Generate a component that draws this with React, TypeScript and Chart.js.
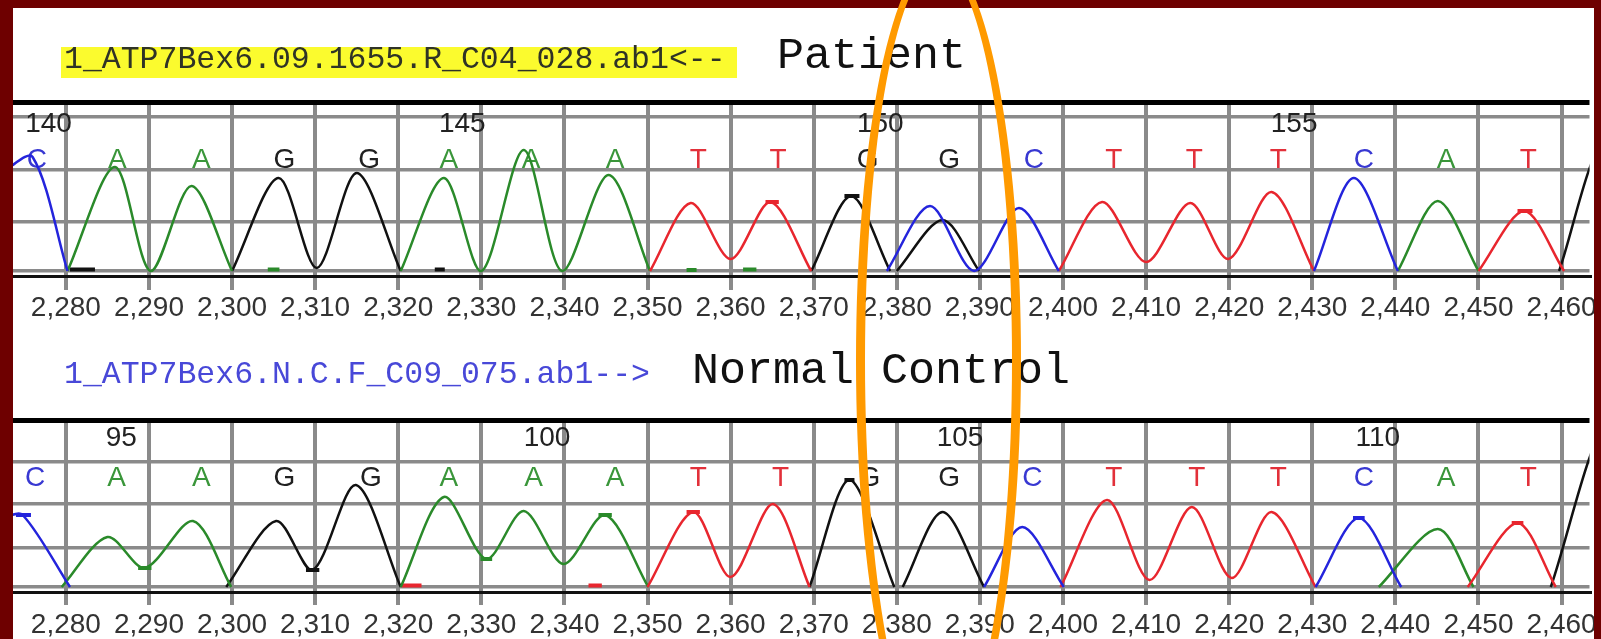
import React, { useEffect, useRef } from 'react';
import { Chart, registerables } from 'chart.js';

Chart.register(...registerables);

// ---------------- data ----------------
const X_MIN = 2273.64;
const X_MAX = 2463.36;
const X_TICKS = [2280, 2290, 2300, 2310, 2320, 2330, 2340, 2350, 2360, 2370, 2380, 2390, 2400, 2410, 2420, 2430, 2440, 2450, 2460];

const BASES = ['C', 'A', 'A', 'G', 'G', 'A', 'A', 'A', 'T', 'T', 'G', 'G', 'C', 'T', 'T', 'T', 'C', 'A', 'T'];
const P1_BASE_POS = [2276.5, 2286.2, 2296.3, 2306.3, 2316.5, 2326.1, 2336, 2346.1, 2356.1, 2365.7, 2376.5, 2386.3, 2396.5, 2406.1, 2415.8, 2425.9, 2436.2, 2446.1, 2456];
const P2_BASE_POS = [2276.3, 2286.1, 2296.3, 2306.3, 2316.7, 2326.1, 2336.3, 2346.1, 2356.1, 2366, 2376.7, 2386.3, 2396.3, 2406.1, 2416.1, 2425.9, 2436.2, 2446.1, 2456];

const P1_NUMS = [140, 145, 150, 155];
const P1_NUM_POS = [2275.1, 2324.9, 2375.2, 2425.0];
const P2_NUMS = [95, 100, 105, 110];
const P2_NUM_POS = [2284.8, 2335.1, 2384.8, 2435.2];

const P1_Y_GRID = [0, 49, 101, 154, 169];
const P2_Y_GRID = [0, 39, 83, 125, 167];

type Pt = [number, number | null];

// Patient trace (signal height per channel)
const P1_A: Pt[] = [
  [2280.2, 0], [2285.9, 104], [2290.2, 0], [2295.1, 85], [2300, 0],
  [2310, null],
  [2320.3, 0], [2325.5, 93], [2330, 0], [2335.1, 121], [2339.7, 0], [2345.3, 96], [2350.3, 0],
  [2400, null],
  [2440.3, 0], [2445.1, 70], [2450, 0],
];
const P1_C: Pt[] = [
  [2272.5, 100], [2276, 114], [2280.2, 0],
  [2330, null],
  [2378.8, 0], [2384, 65], [2389.3, 0], [2394.7, 63], [2399.5, 0],
  [2415, null],
  [2430.2, 0], [2435, 93], [2440.3, 0],
];
const P1_G: Pt[] = [
  [2300, 0], [2305.6, 93], [2310.2, 3], [2315, 98], [2320.3, 0],
  [2345, null],
  [2369.7, 0], [2374.5, 75], [2379.2, 0],
  [2379.6, null],
  [2380, 0], [2385.5, 51], [2389.9, 0],
  [2420, null],
  [2459.7, 0], [2465, 125], [2470, 0],
];
const P1_T: Pt[] = [
  [2350.3, 0], [2355.2, 68], [2360, 12], [2364.8, 69], [2369.7, 0],
  [2385, null],
  [2399.5, 0], [2404.7, 69], [2410, 9], [2415.3, 68], [2419.9, 12], [2425.1, 79], [2430.2, 0],
  [2440, null],
  [2450, 0], [2455.5, 60], [2460.3, 0],
];

// Normal control trace
const P2_A: Pt[] = [
  [2279.5, 0], [2285, 50], [2289.5, 19], [2295.3, 66], [2299.9, 0],
  [2310, null],
  [2320.3, 0], [2325.5, 90], [2330.6, 28], [2335.1, 76], [2339.9, 23], [2344.9, 72], [2350.1, 0],
  [2400, null],
  [2438, 0], [2445.1, 58], [2449.4, 0],
];
const P2_C: Pt[] = [
  [2272.5, 70], [2274.8, 72], [2280.5, 0],
  [2330, null],
  [2390.5, 0], [2395.1, 60], [2400.1, 0],
  [2415, null],
  [2430.4, 0], [2435.6, 69], [2440.7, 0],
];
const P2_G: Pt[] = [
  [2299.3, 0], [2305.3, 66], [2309.7, 17], [2314.9, 102], [2320.3, 0],
  [2345, null],
  [2369.5, 0], [2374.3, 107], [2379.7, 0],
  [2380.2, null],
  [2380.7, 0], [2385.5, 75], [2390.5, 0],
  [2420, null],
  [2458.7, 0], [2465.5, 160], [2471, 0],
];
const P2_T: Pt[] = [
  [2350, 0], [2355.5, 75], [2360, 10], [2365.1, 83], [2369.5, 0],
  [2385, null],
  [2399.7, 0], [2405.3, 87], [2410.4, 7], [2415.5, 80], [2420.3, 9], [2425.1, 75], [2430.4, 0],
  [2440, null],
  [2448.7, 0], [2454.7, 64], [2459.3, 0],
];

// short thick marks on the traces: [base, x, height, half-width in scans]
type Mark = [string, number, number, number];
const P1_MARKS: Mark[] = [
  ['G', 2374.6, 75, 0.9],
  ['T', 2365.0, 69, 0.8],
  ['T', 2455.6, 60, 0.9],
  ['G', 2282.0, 1.5, 1.5],
  ['A', 2305.0, 1.5, 0.7],
  ['G', 2325.0, 1.5, 0.6],
  ['A', 2355.3, 1, 0.6],
  ['A', 2362.3, 1.5, 0.8],
];
const P2_MARKS: Mark[] = [
  ['C', 2274.9, 72, 0.9],
  ['A', 2289.5, 19, 0.8],
  ['G', 2309.7, 17, 0.8],
  ['A', 2330.6, 28, 0.7],
  ['A', 2344.9, 72, 0.8],
  ['T', 2355.5, 75, 0.8],
  ['G', 2374.3, 107, 0.6],
  ['C', 2435.6, 69, 0.7],
  ['T', 2454.7, 64, 0.7],
  ['T', 2321.6, 1.5, 1.2],
  ['T', 2343.7, 1.5, 0.8],
];

// ---------------- styles ----------------
const FONT_SANS = "'Liberation Sans', Arial, sans-serif";
const FONT_MONO = "'Liberation Mono', 'Courier New', monospace";
const TRACE_COLORS: Record<string, string> = { A: '#2a8a2a', C: '#2424dc', G: '#111111', T: '#e8262e' };
const LETTER_COLORS: Record<string, string> = { A: '#3a963a', C: '#3838d2', G: '#202020', T: '#e2303a' };
const GRID_GRAY = '#8a8a8a';
const PX_PER_UNIT = (1594 - 13) / (X_MAX - X_MIN);

interface PanelCfg {
  traces: { base: string; data: Pt[] }[];
  marks: Mark[];
  basePos: number[];
  nums: number[];
  numPos: number[];
  yGrid: number[];
  yMin: number;
  yMax: number;
  baseY: number;
  numY: number;
  canvasTop: number;
  canvasHeight: number;
  padTop: number;
  xAxisH: number;
  tickLen: number;
  tickPad: number;
}

const PANEL1: PanelCfg = {
  traces: [
    { base: 'C', data: P1_C },
    { base: 'T', data: P1_T },
    { base: 'A', data: P1_A },
    { base: 'G', data: P1_G },
  ],
  marks: P1_MARKS,
  basePos: P1_BASE_POS,
  nums: P1_NUMS,
  numPos: P1_NUM_POS,
  yGrid: P1_Y_GRID,
  yMin: -5,
  yMax: 169,
  baseY: 111,
  numY: 147,
  canvasTop: 0,
  canvasHeight: 330,
  padTop: 102,
  xAxisH: 54,
  tickLen: 14,
  tickPad: 1,
};

const PANEL2: PanelCfg = {
  traces: [
    { base: 'C', data: P2_C },
    { base: 'T', data: P2_T },
    { base: 'A', data: P2_A },
    { base: 'G', data: P2_G },
  ],
  marks: P2_MARKS,
  basePos: P2_BASE_POS,
  nums: P2_NUMS,
  numPos: P2_NUM_POS,
  yGrid: P2_Y_GRID,
  yMin: -5,
  yMax: 167,
  baseY: 109,
  numY: 149,
  canvasTop: 330,
  canvasHeight: 309,
  padTop: 90,
  xAxisH: 47,
  tickLen: 13,
  tickPad: 3,
};

function makeLabelPlugin(cfg: PanelCfg) {
  return {
    id: 'seqLabels',
    beforeDatasetsDraw(chart: any) {
      const { ctx } = chart;
      const xs = chart.scales.x;
      const ys = chart.scales.y;
      ctx.save();
      ctx.font = `28px ${FONT_SANS}`;
      ctx.textBaseline = 'middle';
      ctx.textAlign = 'center';
      BASES.forEach((b, i) => {
        ctx.fillStyle = LETTER_COLORS[b];
        ctx.fillText(b, xs.getPixelForValue(cfg.basePos[i]), ys.getPixelForValue(cfg.baseY));
      });
      ctx.textAlign = 'left';
      ctx.fillStyle = '#222222';
      cfg.nums.forEach((n, i) => {
        ctx.fillText(String(n), xs.getPixelForValue(cfg.numPos[i]), ys.getPixelForValue(cfg.numY));
      });
      ctx.restore();
    },
  };
}

function Panel({ cfg }: { cfg: PanelCfg }) {
  const ref = useRef<HTMLCanvasElement>(null);
  useEffect(() => {
    if (!ref.current) return;
    const traceSets = cfg.traces.map((t) => ({
      label: t.base,
      data: t.data.map(([x, y]) => ({ x, y })),
      borderColor: TRACE_COLORS[t.base],
      borderWidth: 2.5,
      pointRadius: 0,
      tension: 0.3,
      fill: false,
      spanGaps: false,
      borderJoinStyle: 'round' as const,
    }));
    const markSet = {
      label: 'marks',
      data: cfg.marks.map(([, x, y]) => ({ x, y })),
      showLine: false,
      pointStyle: 'line' as const,
      pointRadius: cfg.marks.map((m) => m[3] * PX_PER_UNIT),
      pointBorderWidth: 4,
      pointBorderColor: cfg.marks.map((m) => TRACE_COLORS[m[0]]),
      pointBackgroundColor: cfg.marks.map((m) => TRACE_COLORS[m[0]]),
      borderColor: 'transparent',
    };
    const chart = new Chart(ref.current, {
      type: 'line',
      data: { datasets: [...traceSets, markSet] as any },
      options: {
        animation: false,
        responsive: false,
        devicePixelRatio: 1,
        parsing: false as any,
        normalized: true,
        layout: { padding: { left: 13, right: 7, top: cfg.padTop, bottom: 0 } },
        plugins: { legend: { display: false }, tooltip: { enabled: false } },
        events: [],
        scales: {
          x: {
            type: 'linear',
            min: X_MIN,
            max: X_MAX,
            afterBuildTicks: (axis: any) => {
              axis.ticks = X_TICKS.map((v) => ({ value: v }));
            },
            afterFit: (axis: any) => {
              axis.height = cfg.xAxisH;
              axis.paddingLeft = 0;
              axis.paddingRight = 0;
            },
            ticks: {
              callback: (v: any) => Number(v).toLocaleString('en-US'),
              font: { family: FONT_SANS, size: 28 },
              color: '#333333',
              padding: cfg.tickPad,
              maxRotation: 0,
              minRotation: 0,
              autoSkip: false,
            },
            grid: {
              color: GRID_GRAY,
              lineWidth: 4,
              drawTicks: true,
              tickLength: cfg.tickLen,
              drawOnChartArea: true,
            },
            border: { display: true, color: '#111111', width: 3 },
          },
          y: {
            type: 'linear',
            min: cfg.yMin,
            max: cfg.yMax,
            afterBuildTicks: (axis: any) => {
              axis.ticks = cfg.yGrid.map((v) => ({ value: v }));
            },
            afterFit: (axis: any) => {
              axis.width = 0;
              axis.paddingTop = 0;
              axis.paddingBottom = 0;
            },
            ticks: { display: false },
            grid: {
              drawTicks: false,
              color: (c: any) => (c.tick && c.tick.value === cfg.yMax ? '#000000' : GRID_GRAY),
              lineWidth: (c: any) => (c.tick && c.tick.value === cfg.yMax ? 5 : 3.5),
            },
            border: { display: false },
          },
        },
      } as any,
      plugins: [makeLabelPlugin(cfg)],
    });
    return () => chart.destroy();
  }, [cfg]);
  return (
    <canvas
      ref={ref}
      width={1601}
      height={cfg.canvasHeight}
      style={{ position: 'absolute', left: 0, top: cfg.canvasTop, width: 1601, height: cfg.canvasHeight }}
    />
  );
}

const BORDER = '#6e0000';

export default function App() {
  return (
    <div
      style={{
        position: 'absolute',
        left: 0,
        top: 0,
        width: 1601,
        height: 639,
        overflow: 'hidden',
        background: BORDER,
      }}
    >
      <div style={{ position: 'absolute', left: 13, top: 8, width: 1581, height: 631, background: '#ffffff' }} />
      <Panel cfg={PANEL1} />
      <Panel cfg={PANEL2} />

      <div
        style={{
          position: 'absolute',
          left: 61,
          top: 47,
          width: 676,
          height: 31,
          background: '#fbfb2e',
          boxSizing: 'border-box',
          paddingLeft: 3,
          fontFamily: FONT_MONO,
          fontSize: 31.5,
          lineHeight: '25px',
          color: '#2f3326',
          whiteSpace: 'pre',
        }}
      >
        1_ATP7Bex6.09.1655.R_C04_028.ab1{'<--'}
      </div>
      <div
        style={{
          position: 'absolute',
          left: 777,
          top: 33.5,
          fontFamily: FONT_MONO,
          fontSize: 45,
          lineHeight: '45px',
          color: '#111111',
          whiteSpace: 'pre',
        }}
      >
        Patient
      </div>
      <div
        style={{
          position: 'absolute',
          left: 64,
          top: 359,
          fontFamily: FONT_MONO,
          fontSize: 31.5,
          lineHeight: '31px',
          color: '#4848d8',
          whiteSpace: 'pre',
        }}
      >
        1_ATP7Bex6.N.C.F_C09_075.ab1{'-->'}
      </div>
      <div
        style={{
          position: 'absolute',
          left: 692,
          top: 348.5,
          fontFamily: FONT_MONO,
          fontSize: 45,
          lineHeight: '45px',
          color: '#111111',
          whiteSpace: 'pre',
        }}
      >
        Normal Control
      </div>

      {/* frame */}
      <div style={{ position: 'absolute', left: 0, top: 0, width: 1601, height: 8, background: BORDER }} />
      <div style={{ position: 'absolute', left: 0, top: 0, width: 13, height: 639, background: BORDER }} />
      <div style={{ position: 'absolute', left: 1594, top: 0, width: 7, height: 639, background: BORDER }} />

      {/* highlight ellipse */}
      <div
        style={{
          position: 'absolute',
          left: 855.5,
          top: -44.5,
          width: 165,
          height: 809,
          border: '9px solid #ff9a00',
          borderRadius: '50%',
          boxSizing: 'border-box',
        }}
      />
    </div>
  );
}
